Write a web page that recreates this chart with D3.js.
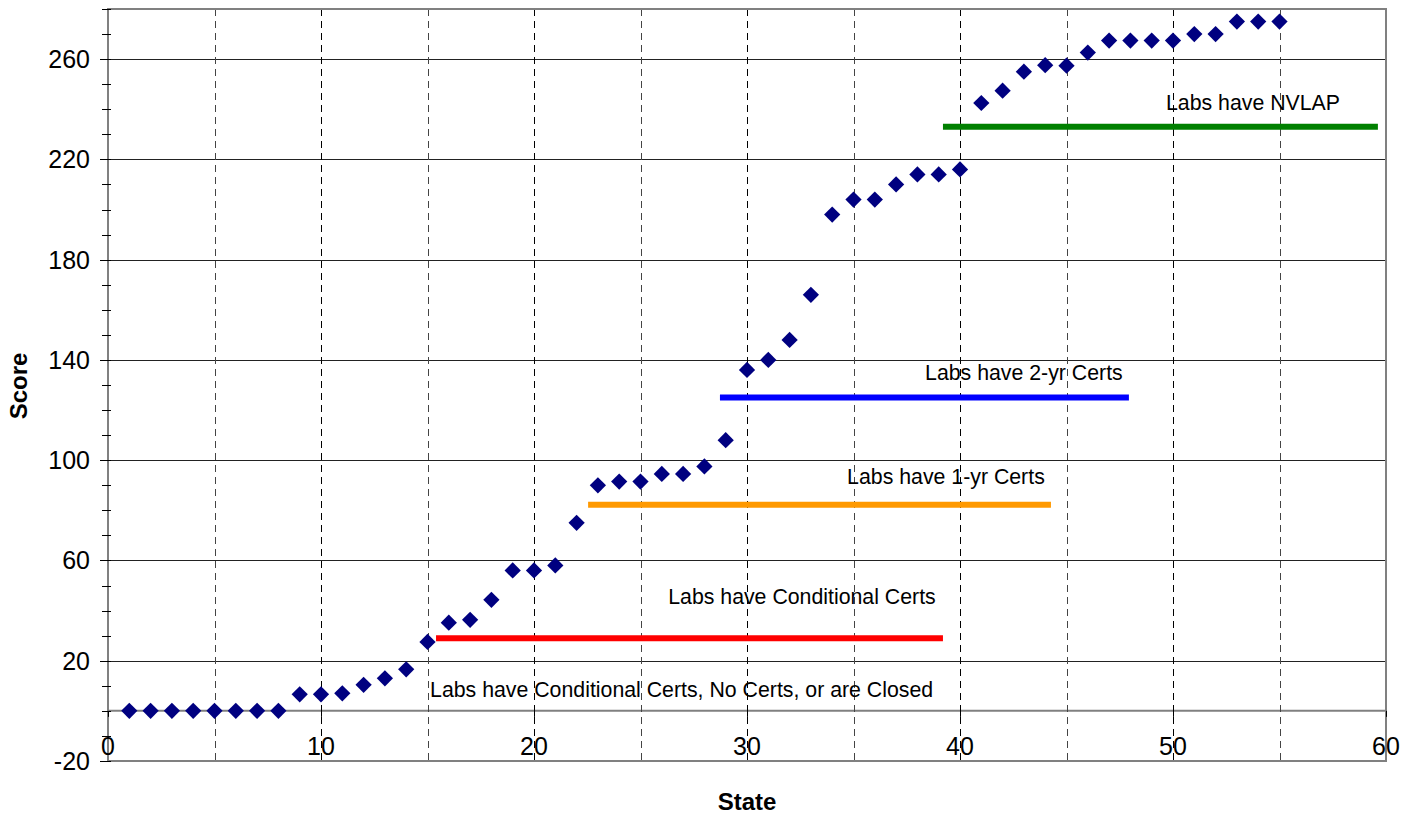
<!DOCTYPE html>
<html>
<head>
<meta charset="utf-8">
<script src="https://cdn.jsdelivr.net/npm/d3@7"></script>
<style>
  html, body { margin: 0; padding: 0; background: #fff; }
  svg { display: block; font-family: "Liberation Sans", Arial, sans-serif; }
</style>
</head>
<body>
<svg id="chart" width="1416" height="814"></svg>
<script>
// ---- data ----
const states = d3.range(1, 56);
const scores = [0, 0, 0, 0, 0, 0, 0, 0, 6.6, 6.6, 7, 10.4, 13, 16.6, 27.5, 35.2, 36.3, 44.3, 56, 56,
  58, 75, 90, 91.5, 91.5, 94.5, 94.5, 97.5, 108, 136, 140, 148, 166, 198, 204, 204, 210, 214, 214, 216,
  242.5, 247.4, 255, 257.6, 257.4, 262.6, 267.4, 267.4, 267.4, 267.4, 270, 270, 275, 275, 275];

const levelNames = ["Labs have Conditional Certs", "Labs have 1-yr Certs", "Labs have 2-yr Certs", "Labs have NVLAP"];
const levelStart = [15.4, 22.54, 28.73, 39.2];
const levelEnd = [39.2, 44.27, 47.93, 59.62];
const levelScore = [29, 82.2, 125, 233];
const levelColors = ["#ff0000", "#ff9900", "#0000ff", "#008000"];
const levelLabelX = [26.3, 34.7, 38.36, 49.67];
const levelLabelY = [42.5, 90.7, 131.8, 239.7];

const baseLabel = "Labs have Conditional Certs, No Certs, or are Closed";
const baseLabelX = 15.12;
const baseLabelY = 5.7;

const xTicks = [0, 10, 20, 30, 40, 50, 60];
const xGrid = d3.range(0, 61, 5);
const yTicks = [-20, 20, 60, 100, 140, 180, 220, 260];
const yMinor = d3.range(-20, 281, 10);

// ---- scales ----
const svg = d3.select("#chart");
const x = d3.scaleLinear().domain([0, 60]).range([108, 1386]);
const y = d3.scaleLinear().domain([-20, 280]).range([761, 9]);

// horizontal gridlines
svg.append("g").selectAll("line").data(yTicks.filter(v => v > -20)).join("line")
  .attr("x1", x(0)).attr("x2", x(60))
  .attr("y1", d => Math.round(y(d)) + 0.5).attr("y2", d => Math.round(y(d)) + 0.5)
  .attr("stroke", "#222").attr("stroke-width", 1);

// x axis line at y=0
svg.append("line")
  .attr("x1", x(0)).attr("x2", x(60)).attr("y1", y(0)).attr("y2", y(0))
  .attr("stroke", "#808080").attr("stroke-width", 2);

// y axis line (grey)
svg.append("line")
  .attr("x1", x(0)).attr("x2", x(0)).attr("y1", y(-20)).attr("y2", y(280))
  .attr("stroke", "#808080").attr("stroke-width", 2);

// vertical dashed gridlines
svg.append("g").selectAll("line").data(xGrid.filter(v => v < 60)).join("line")
  .attr("x1", d => Math.round(x(d)) + 0.5).attr("x2", d => Math.round(x(d)) + 0.5)
  .attr("y1", y(280)).attr("y2", y(-20))
  .attr("stroke", d => d % 10 === 0 ? "#000" : "#444").attr("stroke-width", 1)
  .attr("stroke-dasharray", "7,5");

// plot border
svg.append("rect")
  .attr("x", x(0)).attr("y", y(280)).attr("width", x(60) - x(0)).attr("height", y(-20) - y(280))
  .attr("fill", "none").attr("stroke", "#808080").attr("stroke-width", 2);

// y ticks
svg.append("g").selectAll("line").data(yMinor).join("line")
  .attr("x1", d => yTicks.includes(d) ? x(0) - 8 : x(0) - 6)
  .attr("x2", x(0) + 3)
  .attr("y1", d => Math.round(y(d)) + 0.5).attr("y2", d => Math.round(y(d)) + 0.5)
  .attr("stroke", "#000").attr("stroke-width", 1);

// x ticks small
svg.append("g").selectAll("line").data(xTicks).join("line")
  .attr("x1", d => Math.round(x(d)) + 0.5).attr("x2", d => Math.round(x(d)) + 0.5)
  .attr("y1", y(0)).attr("y2", y(0) + 6)
  .attr("stroke", "#000").attr("stroke-width", 1);

// y tick labels
svg.append("g").selectAll("text").data(yTicks).join("text")
  .attr("x", 90).attr("y", d => y(d) + 9)
  .attr("text-anchor", "end").attr("font-size", 25).attr("fill", "#000")
  .text(d => d);

// x tick labels
svg.append("g").selectAll("text").data(xTicks).join("text")
  .attr("x", d => x(d)).attr("y", 755)
  .attr("text-anchor", "middle").attr("font-size", 25).attr("fill", "#000")
  .text(d => d);

// axis titles
svg.append("text").attr("x", 747).attr("y", 810)
  .attr("text-anchor", "middle").attr("font-size", 24).attr("font-weight", "bold").text("State");
svg.append("text").attr("transform", "translate(27,386) rotate(-90)")
  .attr("text-anchor", "middle").attr("font-size", 24).attr("font-weight", "bold").text("Score");

// level lines
svg.append("g").selectAll("line").data(levelNames).join("line")
  .attr("x1", (d, i) => x(levelStart[i])).attr("x2", (d, i) => x(levelEnd[i]))
  .attr("y1", (d, i) => y(levelScore[i])).attr("y2", (d, i) => y(levelScore[i]))
  .attr("stroke", (d, i) => levelColors[i]).attr("stroke-width", 6);

// level labels
svg.append("g").selectAll("text").data(levelNames).join("text")
  .attr("x", (d, i) => x(levelLabelX[i])).attr("y", (d, i) => y(levelLabelY[i]))
  .attr("font-size", 21.3).attr("fill", "#000").text(d => d);

svg.append("text").attr("x", x(baseLabelX)).attr("y", y(baseLabelY))
  .attr("font-size", 21.3).attr("fill", "#000").text(baseLabel);

// points (diamonds)
const diamond = d3.symbol().type(d3.symbolSquare).size(132);
svg.append("g").selectAll("path").data(states).join("path")
  .attr("d", diamond)
  .attr("transform", (d, i) => `translate(${x(d)},${y(scores[i])}) rotate(45)`)
  .attr("fill", "#000080");
</script>
</body>
</html>
